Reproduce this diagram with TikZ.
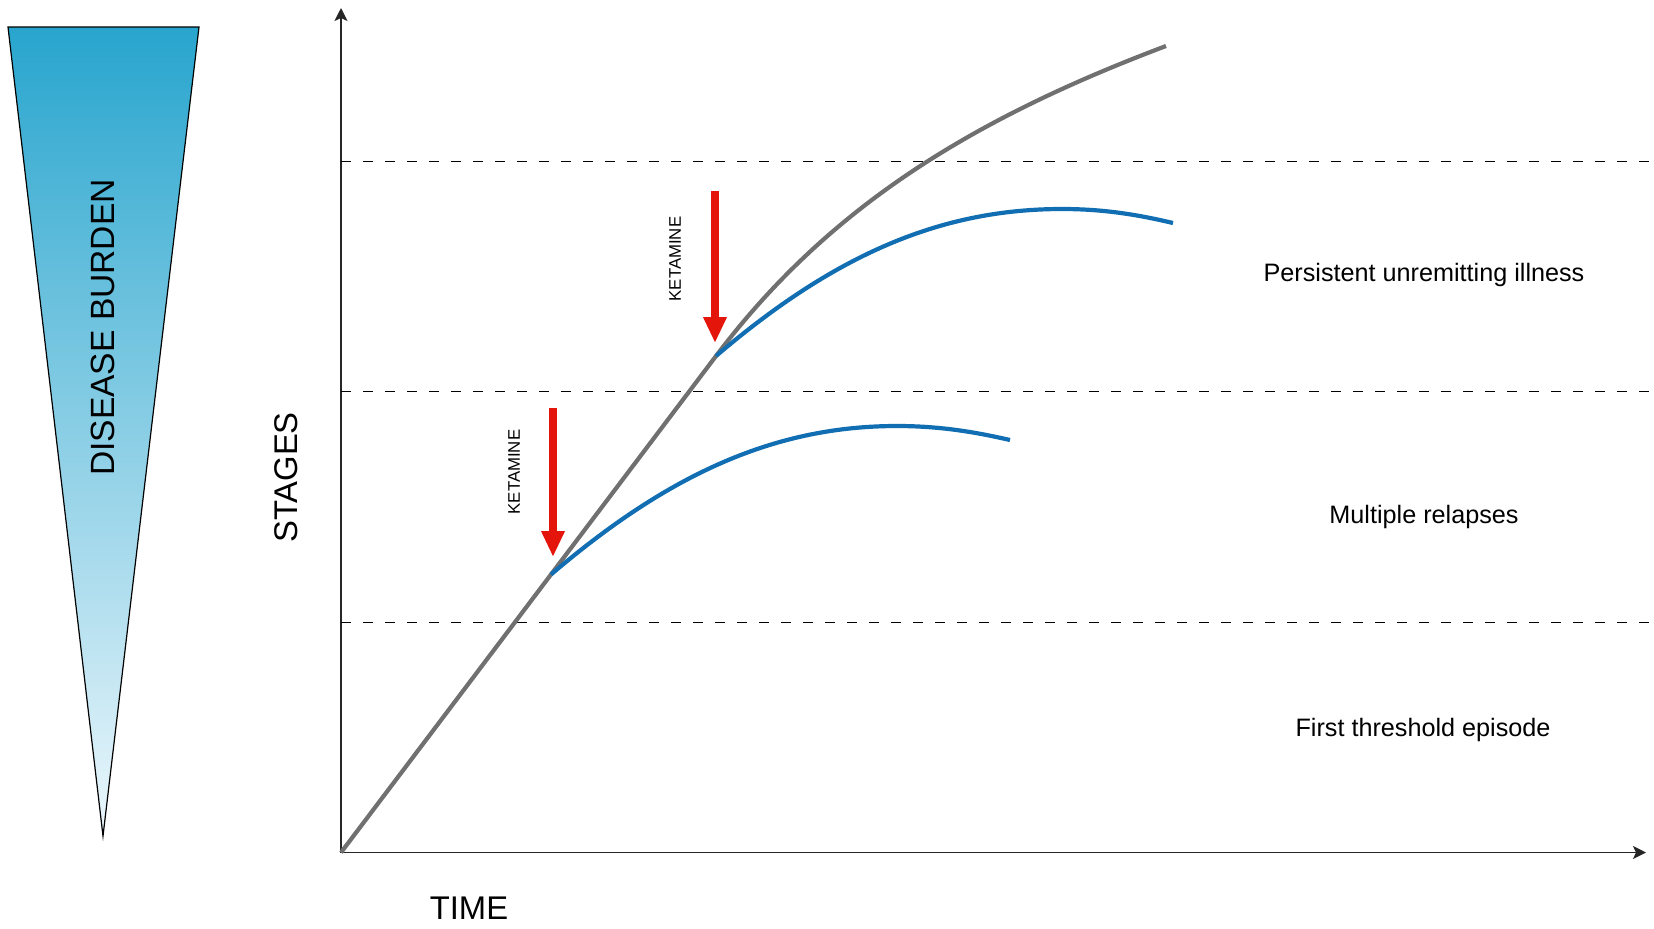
\documentclass[tikz,border=0pt]{standalone}
\usepackage{fontspec}
\setmainfont{Liberation Sans}
\usetikzlibrary{arrows.meta}
\definecolor{triTop}{RGB}{40,165,206}
\definecolor{triBot}{RGB}{236,247,252}
\definecolor{curveGray}{RGB}{112,112,112}
\definecolor{curveBlue}{RGB}{18,110,178}
\definecolor{ketRed}{RGB}{228,22,12}
\begin{document}
\begin{tikzpicture}[x=0.5pt,y=-0.5pt,
  axis/.style={line width=0.8pt, draw=black!85, -{Stealth[length=6.5pt,width=6.5pt,inset=1.5pt]}},
  stageline/.style={line width=0.6pt, dash pattern=on 5.2pt off 5.8pt},
  trend/.style={line width=2.1pt, draw=curveGray},
  response/.style={line width=2.1pt, draw=curveBlue},
  drug/.style={line width=4.3pt, draw=ketRed, -{Triangle[width=11pt,length=13pt]}},
  druglabel/.style={rotate=90, font=\fontsize{8.4}{10}\selectfont, inner sep=0pt},
  stagelabel/.style={font=\fontsize{12.6}{15}\selectfont, anchor=base, inner sep=0pt},
  axislabel/.style={font=\fontsize{16.4}{20}\selectfont, inner sep=0pt}]

\useasboundingbox (0,0) rectangle (1654,928);

% disease burden wedge
\coordinate (tl) at (8,27);
\coordinate (tr) at (199,27);
\coordinate (tip) at (103,836);
\shade[top color=triTop, bottom color=triBot] (tl) -- (tr) -- (tip) -- cycle;
\draw[line width=0.6pt] (tl) -- (tr) -- (tip) -- cycle;
\node[axislabel, rotate=90, font=\fontsize{16.8}{20}\selectfont] (burden) at (103,327.5) {DISEASE BURDEN};

% axes
\coordinate (O) at (341,852.5);
\coordinate (ytop) at (341,8);
\coordinate (xend) at (1646,852.5);
\draw[axis] (O) -- (ytop);
\draw[axis] (O) -- (xend);

% stage boundaries
\coordinate (d1l) at (341,161.5); \coordinate (d1r) at (1652,161.5);
\coordinate (d2l) at (341,391.5); \coordinate (d2r) at (1652,391.5);
\coordinate (d3l) at (341,622.5); \coordinate (d3r) at (1652,622.5);
\draw[stageline] (d1l) -- (d1r);
\draw[stageline] (d2l) -- (d2r);
\draw[stageline] (d3l) -- (d3r);

% trajectories
\coordinate (b1s) at (551,574.5);
\coordinate (b2s) at (716,356);
\coordinate (gend) at (1166,46);
\draw[trend] (O) -- (b2s) .. controls (830,205) and (975,118) .. (gend);

\coordinate (p1) at (897,426);
\coordinate (e1) at (1010,440);
\draw[response] (b1s) .. controls (671,472) and (777,426) .. (p1)
  .. controls (940,426) and (975,432) .. (e1);

\coordinate (p2) at (1062,209);
\coordinate (e2) at (1173,223);
\draw[response] (b2s) .. controls (836,253.5) and (942,209) .. (p2)
  .. controls (1105,209) and (1139,215) .. (e2);

% ketamine arrows
\coordinate (k1a) at (553,408); \coordinate (k1b) at (553,557);
\coordinate (k2a) at (715,191); \coordinate (k2b) at (715,343);
\draw[drug] (k1a) -- (k1b);
\draw[drug] (k2a) -- (k2b);
\node[druglabel] (ket1) at (514,472) {KETAMINE};
\node[druglabel] (ket2) at (675,259) {KETAMINE};

% axis labels
\node[axislabel, rotate=90] (stages) at (286,477.5) {STAGES};
\node[axislabel] (time) at (469,908) {TIME};

% stage labels
\node[stagelabel] (s3) at (1424,281.7) {Persistent unremitting illness};
\node[stagelabel] (s2) at (1424,523.3) {Multiple relapses};
\node[stagelabel] (s1) at (1423,736.7) {First threshold episode};
\end{tikzpicture}
\end{document}
